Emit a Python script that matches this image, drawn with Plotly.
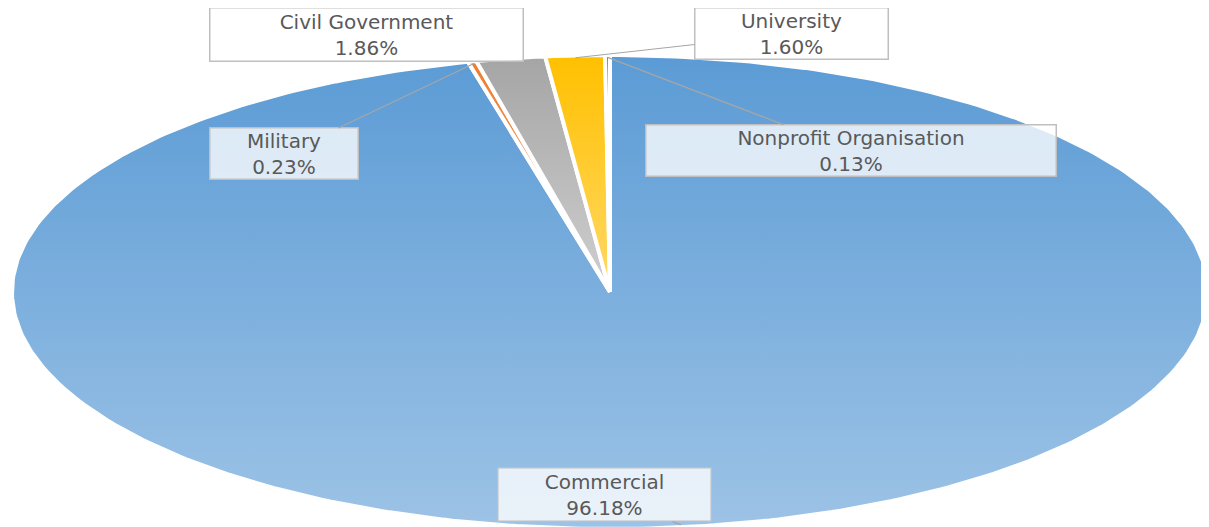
import numpy as np
import plotly.graph_objects as go

# sector shares, in the order they run clockwise from 12 o'clock
sectors = ["Commercial", "Military", "Civil Government", "University", "Nonprofit Organisation"]
shares = [96.18, 0.23, 1.86, 1.60, 0.13]

# slice colours: top of the gradient and bottom of the gradient
top_colors = ["#5B9BD5", "#ED7D31", "#A5A5A5", "#FFC000", "#4472C4"]
bottom_colors = ["#9DC3E6", "#F4B183", "#CFCFCF", "#FFD966", "#8FAADC"]

# callout boxes: offset from the slice edge (px) and box size (px)
label_offsets = [(-76, -30), (-189, 90), (-145, -26), (216, -24), (243, 93)]
label_sizes = [(210, 50), (145, 48), (310, 50), (190, 48), (407, 48)]

fig = go.Figure()

# the pie is drawn on plain x/y axes with no scale anchor, so the
# unit circle gets stretched into the wide ellipse of the original
bounds = np.concatenate([[0], np.cumsum(shares)]) / 100 * 2 * np.pi
for i, name in enumerate(sectors):
    theta = np.linspace(bounds[i], bounds[i + 1], max(int(shares[i] * 4), 8))
    xs = np.concatenate([[0], np.sin(theta), [0]])
    ys = np.concatenate([[0], np.cos(theta), [0]])
    fig.add_trace(go.Scatter(
        x=xs, y=ys,
        mode='lines',
        fill='toself',
        fillgradient=dict(type='vertical',
                          colorscale=[[0, bottom_colors[i]], [1, top_colors[i]]]),
        line=dict(color='white', width=4),
        name=name,
        hoverinfo='name',
        showlegend=False,
    ))

annotations = []
for i, name in enumerate(sectors):
    mid = (bounds[i] + bounds[i + 1]) / 2
    ax, ay = label_offsets[i]
    w, h = label_sizes[i]
    annotations.append(dict(
        x=0.99 * np.sin(mid), y=0.99 * np.cos(mid),
        xref='x', yref='y',
        ax=ax, ay=ay,
        text='{0}<br>{1:.2f}%'.format(name, shares[i]),
        showarrow=True,
        arrowhead=0,
        arrowwidth=1.2,
        arrowcolor='#A6A6A6',
        bgcolor='rgba(255,255,255,0.78)',
        bordercolor='#BFBFBF',
        borderwidth=1.5,
        borderpad=1,
        width=w, height=h,
        font=dict(family='DejaVu Sans', size=20, color='#595959'),
    ))

# the page keeps an 8px body margin, so the figure is 8px smaller
fig.update_layout(
    width=1201, height=519,
    margin=dict(l=4, r=1, t=47, b=0),
    paper_bgcolor='white',
    plot_bgcolor='white',
    xaxis=dict(range=[-1, 1], visible=False, fixedrange=True),
    yaxis=dict(range=[-0.9916, 1], visible=False, fixedrange=True),
    annotations=annotations,
    showlegend=False,
)

fig.write_html("out.html")
